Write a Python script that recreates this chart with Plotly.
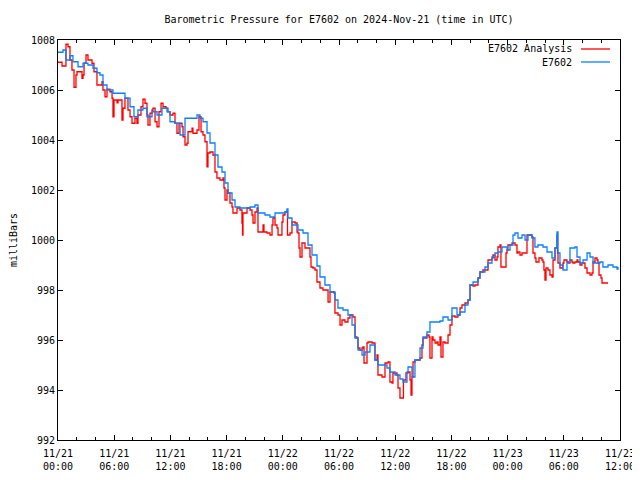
import pandas as pd
import plotly.graph_objects as go

start = pd.Timestamp("2024-11-21 00:00")

# E7602 Analysis (red): hours since start, pressure (mb)
analysis_hours = [0, 0.43, 0.64, 0.85, 1.07, 1.28, 1.49, 1.71, 1.92, 2.03, 2.24, 2.56, 2.67, 2.78, 2.99, 3.20, 3.63, 3.84, 4.16, 4.48, 4.70, 4.80, 5.02, 5.23, 5.55, 5.77, 5.87, 5.98, 6.30, 6.41, 6.62, 6.83, 6.94, 7.15, 7.47, 7.69, 7.90, 8.22, 8.43, 8.54, 8.86, 9.07, 9.29, 9.50, 9.61, 9.82, 10.04, 10.14, 10.36, 10.57, 10.78, 11.00, 11.21, 11.53, 11.74, 11.96, 12.28, 12.49, 12.70, 12.92, 13.24, 13.35, 13.56, 13.77, 13.88, 14.31, 14.41, 14.84, 15.05, 15.27, 15.48, 15.69, 15.91, 16.01, 16.23, 16.55, 16.76, 16.97, 17.29, 17.62, 17.72, 17.83, 18.04, 18.15, 18.36, 18.58, 18.68, 19.11, 19.43, 19.64, 19.70, 19.75, 20.18, 20.50, 20.71, 20.82, 21.03, 21.25, 21.35, 21.78, 21.89, 21.99, 22.31, 22.63, 22.85, 22.95, 23.17, 23.38, 23.49, 23.81, 23.91, 24.02, 24.23, 24.45, 24.50, 24.77, 24.98, 25.30, 25.52, 25.62, 25.73, 25.84, 26.05, 26.37, 26.69, 26.90, 27.01, 27.22, 27.44, 27.65, 27.97, 28.29, 28.72, 28.83, 29.04, 29.47, 29.57, 29.89, 30.11, 30.32, 30.64, 30.96, 31.17, 31.49, 31.71, 31.92, 32.03, 32.24, 32.46, 32.56, 32.67, 32.99, 33.10, 33.52, 33.74, 33.84, 34.06, 34.16, 34.59, 34.91, 35.23, 35.44, 35.66, 35.76, 36.19, 36.30, 36.51, 36.83, 36.88, 37.15, 37.37, 37.58, 37.69, 37.79, 37.90, 38.11, 38.43, 38.65, 38.86, 38.97, 39.39, 39.61, 39.71, 39.93, 40.04, 40.25, 40.46, 40.57, 40.78, 40.89, 41.10, 41.32, 41.53, 41.64, 41.85, 42.06, 42.38, 42.70, 42.92, 43.13, 43.45, 43.77, 43.99, 44.31, 44.52, 44.84, 45.05, 45.37, 45.80, 45.91, 46.33, 46.44, 46.65, 46.87, 46.97, 47.19, 47.29, 47.72, 47.83, 47.94, 48.04, 48.47, 48.79, 49.00, 49.11, 49.32, 49.54, 49.86, 50.07, 50.39, 50.60, 50.71, 50.92, 51.03, 51.24, 51.35, 51.67, 51.78, 51.88, 51.99, 52.10, 52.31, 52.52, 52.74, 52.85, 53.06, 53.27, 53.33, 53.38, 53.59, 53.91, 54.02, 54.34, 54.45, 54.66, 54.87, 54.98, 55.19, 55.41, 55.51, 55.73, 55.94, 56.26, 56.48, 56.80, 57.01, 57.12, 57.33, 57.54, 57.65, 57.76, 57.86, 57.97, 58.08, 58.18, 58.72]
analysis_mb = [1007.11, 1006.96, 1006.96, 1007.83, 1007.73, 1007.2, 1006.8, 1006.11, 1006.6, 1006.73, 1006.73, 1006.47, 1006.6, 1007.07, 1007.4, 1007.2, 1007.07, 1006.73, 1006.2, 1006.2, 1006.33, 1006.0, 1005.73, 1006.03, 1005.93, 1005.67, 1004.93, 1005.6, 1005.49, 1005.6, 1005.6, 1004.8, 1005.27, 1005.67, 1005.2, 1004.93, 1004.67, 1004.87, 1004.67, 1005.0, 1005.33, 1005.63, 1005.47, 1005.0, 1004.6, 1005.07, 1005.2, 1005.27, 1004.73, 1004.53, 1005.13, 1005.47, 1005.33, 1005.27, 1005.13, 1005.0, 1005.07, 1004.67, 1004.27, 1004.67, 1004.53, 1004.13, 1003.8, 1003.87, 1004.33, 1004.47, 1004.27, 1004.4, 1004.93, 1004.33, 1004.2, 1003.93, 1002.93, 1003.48, 1003.52, 1003.4, 1002.72, 1002.48, 1002.4, 1002.48, 1002.08, 1001.6, 1002.0, 1001.88, 1001.48, 1001.32, 1001.08, 1001.28, 1001.2, 1000.68, 1000.2, 1001.08, 1001.28, 1001.2, 1001.0, 1000.68, 1001.12, 1001.28, 1000.32, 1000.32, 1000.6, 1000.32, 1000.28, 1000.2, 1000.6, 1000.88, 1000.6, 1000.48, 1000.2, 1000.2, 1000.72, 1001.0, 1001.12, 1001.16, 1000.2, 1000.28, 1000.72, 1000.68, 1000.32, 1000.28, 999.68, 999.32, 999.88, 999.68, 999.68, 999.32, 998.92, 998.88, 998.8, 998.32, 998.08, 998.0, 998.0, 997.52, 997.92, 997.88, 997.08, 997.0, 996.6, 996.8, 996.72, 996.88, 997.0, 996.92, 996.12, 996.08, 995.68, 995.6, 995.68, 995.72, 995.08, 995.88, 995.92, 995.88, 995.88, 995.2, 995.4, 994.6, 994.52, 995.08, 995.12, 994.32, 994.28, 994.68, 994.6, 994.08, 993.68, 993.68, 994.4, 994.68, 994.72, 994.4, 993.8, 994.52, 995.12, 995.2, 995.2, 995.28, 995.8, 996.08, 996.2, 996.12, 995.28, 996.12, 996.0, 995.88, 995.92, 995.8, 996.12, 995.32, 995.92, 995.88, 995.88, 996.2, 996.6, 996.96, 996.92, 997.0, 997.28, 997.4, 997.48, 997.6, 998.2, 998.16, 998.2, 998.48, 998.72, 998.8, 998.8, 999.2, 999.28, 999.4, 999.2, 999.32, 999.72, 999.8, 998.92, 998.92, 999.48, 999.6, 999.8, 999.88, 999.8, 999.48, 999.52, 999.4, 999.48, 999.48, 1000.2, 1000.2, 1000.12, 999.48, 999.28, 999.12, 999.12, 999.28, 999.2, 999.12, 998.8, 998.4, 998.88, 998.8, 998.6, 998.52, 999.2, 999.68, 1000.2, 999.48, 999.08, 998.88, 999.08, 999.2, 999.12, 999.08, 999.2, 999.12, 999.08, 999.12, 999.2, 999.12, 999.0, 999.08, 998.88, 998.68, 998.6, 998.68, 999.12, 999.28, 999.2, 999.08, 998.6, 998.6, 998.48, 998.28, 998.28, 998.28]

# E7602 observed (blue)
obs_hours = [0, 0.53, 0.85, 1.28, 1.60, 2.14, 2.67, 3.20, 3.74, 4.16, 4.48, 4.80, 5.23, 5.87, 6.94, 7.15, 7.69, 8.11, 8.54, 9.07, 9.50, 10.04, 10.57, 11.10, 11.64, 11.96, 12.49, 13.03, 13.56, 14.31, 14.84, 15.16, 15.48, 15.91, 16.23, 16.76, 17.08, 17.51, 17.83, 18.15, 18.58, 18.90, 19.43, 19.97, 20.50, 21.03, 21.35, 22.10, 22.63, 23.17, 23.70, 24.23, 24.45, 24.55, 24.98, 25.62, 26.16, 26.69, 27.12, 27.65, 27.97, 28.50, 29.04, 29.57, 29.89, 30.43, 30.96, 31.39, 31.71, 32.03, 32.46, 32.78, 33.31, 33.84, 34.16, 34.70, 35.12, 35.44, 35.98, 36.51, 36.83, 37.26, 37.37, 37.79, 38.11, 38.65, 38.97, 39.39, 39.71, 40.78, 41.10, 41.64, 42.06, 42.60, 42.92, 43.45, 43.77, 43.99, 44.31, 44.84, 45.05, 45.59, 45.91, 46.33, 46.65, 46.97, 47.40, 47.94, 48.26, 48.58, 48.79, 49.11, 49.54, 49.86, 50.18, 50.60, 50.92, 51.24, 51.78, 52.21, 52.74, 53.06, 53.27, 53.38, 53.59, 53.91, 54.34, 54.66, 55.19, 55.41, 55.73, 56.05, 56.48, 56.80, 57.12, 57.54, 57.86, 58.18, 58.72, 59.25, 59.68, 59.79]
obs_mb = [1007.51, 1007.6, 1007.2, 1007.37, 1007.13, 1006.93, 1007.07, 1007.0, 1006.87, 1006.69, 1006.6, 1006.2, 1006.0, 1005.87, 1005.87, 1005.67, 1005.33, 1004.93, 1005.2, 1005.27, 1004.93, 1005.13, 1005.0, 1005.27, 1005.13, 1004.73, 1004.67, 1004.2, 1004.87, 1004.87, 1005.0, 1004.87, 1004.73, 1004.28, 1003.88, 1003.4, 1002.92, 1002.72, 1002.28, 1001.88, 1001.6, 1001.32, 1001.28, 1001.28, 1001.32, 1001.4, 1001.08, 1001.0, 1000.92, 1001.08, 1001.08, 1001.12, 1001.24, 1000.88, 1000.6, 1000.4, 1000.28, 999.8, 999.4, 998.96, 998.52, 998.2, 997.92, 997.6, 997.28, 997.2, 997.0, 996.6, 996.08, 995.6, 995.4, 995.52, 995.8, 995.2, 995.0, 995.0, 994.88, 994.72, 994.6, 994.44, 994.32, 994.72, 994.92, 994.52, 995.2, 995.68, 996.12, 996.32, 996.72, 996.76, 996.92, 996.8, 997.28, 997.0, 997.12, 997.4, 997.6, 998.2, 998.32, 998.48, 998.72, 998.92, 999.08, 999.32, 999.48, 999.52, 999.72, 999.6, 999.8, 1000.2, 1000.28, 1000.08, 1000.2, 1000.0, 1000.2, 1000.08, 999.72, 999.8, 999.72, 999.52, 999.28, 999.68, 1000.32, 999.48, 999.0, 998.8, 999.12, 999.68, 999.72, 999.32, 999.08, 999.2, 999.48, 999.32, 999.08, 999.08, 999.12, 998.92, 999.0, 998.92, 998.84, 998.92]

series_names = ["E7602 Analysis", "E7602"]
series_colors = ["#ff0000", "#0a80ff"]
y_ticks = [992, 994, 996, 998, 1000, 1002, 1004, 1006, 1008]

def to_time(hours):
    return [start + pd.to_timedelta(h, unit="h") for h in hours]

FONT = "DejaVu Sans Mono, Liberation Mono, monospace"

# the page body adds an 8px offset, so the figure is sized to fit the window
FIG_W, FIG_H = 632, 472

fig = go.Figure()
fig.add_trace(go.Scatter(x=to_time(analysis_hours), y=analysis_mb, mode="lines",
                         line=dict(color=series_colors[0], width=1.3, shape="hv"),
                         name=series_names[0]))
fig.add_trace(go.Scatter(x=to_time(obs_hours), y=obs_mb, mode="lines",
                         line=dict(color=series_colors[1], width=1.3, shape="hv"),
                         name=series_names[1]))

axis_common = dict(showline=True, linecolor="black", linewidth=1, mirror="ticks",
                   ticks="inside", tickcolor="black", ticklen=5, tickwidth=1,
                   showgrid=False, zeroline=False, automargin=False,
                   tickfont=dict(family=FONT, size=10, color="black"))

fig.update_xaxes(range=[start, start + pd.Timedelta(hours=60)],
                 dtick=6 * 3600 * 1000, tick0=start,
                 tickformat="%m/%d<br>%H:%M", ticklabeloverflow="allow",
                 ticklabelstandoff=4,
                 minor=dict(ticks="inside", ticklen=3, dtick=2 * 3600 * 1000,
                            tickcolor="black", showgrid=False),
                 **axis_common)
fig.update_yaxes(range=[992, 1008], tickvals=y_ticks,
                 title=dict(text="milliBars", font=dict(family=FONT, size=10, color="black"),
                            standoff=14),
                 **axis_common)

# gnuplot-style legend: right-aligned labels with sample line to the right
legend_y = [0.9775, 0.945]
for name, color, ly in zip(series_names, series_colors, legend_y):
    fig.add_annotation(x=0.918, y=ly, xref="paper", yref="paper", text=name,
                       showarrow=False, xanchor="right", yanchor="middle",
                       font=dict(family=FONT, size=10, color="black"))
    fig.add_shape(type="line", xref="paper", yref="paper", x0=0.9306, x1=0.9822,
                  y0=ly, y1=ly, line=dict(color=color, width=1.3))

fig.update_layout(
    width=FIG_W, height=FIG_H,
    margin=dict(l=50, r=20, t=32, b=40, autoexpand=False),
    paper_bgcolor="white", plot_bgcolor="white",
    showlegend=False,
    title=dict(text="Barometric Pressure for E7602 on 2024-Nov-21 (time in UTC)",
               x=0.5, xref="paper", xanchor="center", automargin=False,
               y=1 - 11 / FIG_H, yref="container", yanchor="middle",
               font=dict(family=FONT, size=10, color="black")),
)

fig.write_html("out.html")
